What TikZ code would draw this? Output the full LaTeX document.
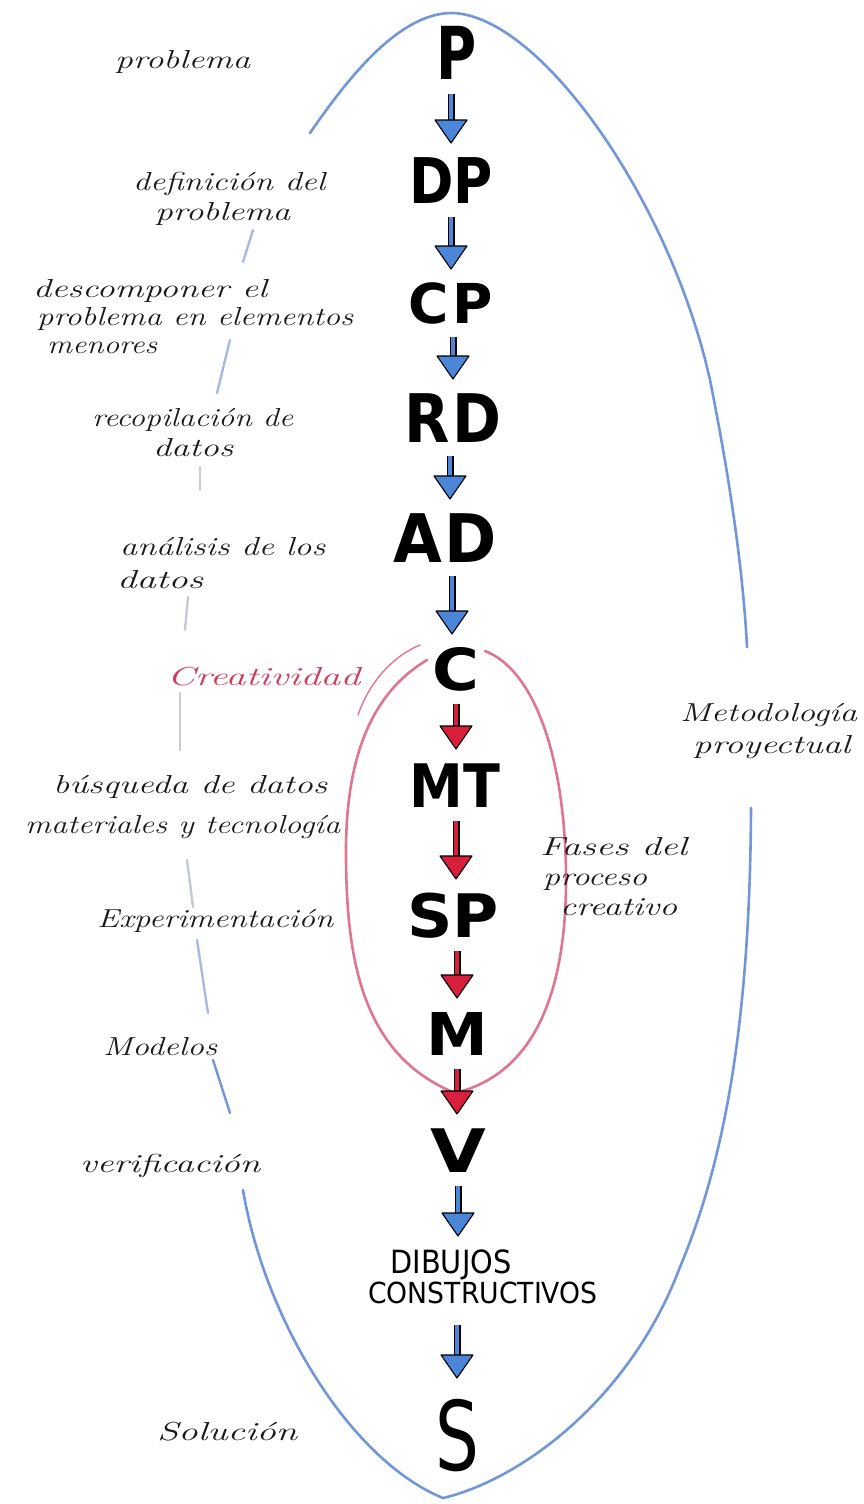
\documentclass[tikz,border=0pt]{standalone}
\usepackage{fontspec}
\usepackage{graphicx}
\usetikzlibrary{decorations.markings}
\newfontfamily\markerfont{DejaVu Sans}

% bold marker letters: size, horizontal squeeze, text
\newcommand\letr[3]{{\markerfont\bfseries\fontsize{#1}{#1}\selectfont\scalebox{#2}[1]{#3}}}
% plain marker capitals
\newcommand\caps[3]{{\markerfont\fontsize{#1}{#1}\selectfont\scalebox{#2}[1]{#3}}}
% handwritten note stretched to a given width
\newcommand\hand[2]{\resizebox{#1pt}{\height}{#2}}

\definecolor{penblue}{HTML}{7297D8}
\definecolor{fadeblue}{HTML}{A7BBE2}
\definecolor{fadegray}{HTML}{C6CAD3}
\definecolor{penred}{HTML}{E07592}
\definecolor{inkred}{HTML}{CF3A5E}
\definecolor{arrblue}{HTML}{4C86D8}
\definecolor{arrred}{HTML}{D8203C}
\definecolor{ink}{HTML}{1A1A1A}

\tikzset{
  letter/.style={inner sep=0pt, outer sep=14pt, text depth=0pt, text=black},
  note/.style={font=\fontsize{26}{26}\selectfont\itshape, inner sep=0pt,
    anchor=base west, text=ink},
  rednote/.style={note, text=inkred},
  flow/.style={draw=#1, line width=4.4pt, shorten >=21pt,
    preaction={draw=black, line width=7pt, shorten >=21pt},
    postaction={decorate, decoration={markings, mark=at position 1 with {
      \filldraw[fill=#1, draw=black, line width=1.1pt, line join=round,
        shorten >=0pt, shorten <=0pt]
        (0pt,0pt) -- (-23pt,16pt) -- (-23pt,-16pt) -- cycle;}}}},
  bluepen/.style={draw=penblue, line width=2.6pt, line cap=round},
  fadepen/.style={line width=2.4pt, line cap=round},
  redpen/.style={draw=penred, line width=2.6pt, line cap=round},
}

\begin{document}
\begin{tikzpicture}[x=1pt,y=-1pt]
\useasboundingbox (0,0) rectangle (864,1504);
\fill[white] (0,0) rectangle (864,1504);

% outer loop of the project method
\draw[bluepen] (310,133) .. controls (350,75) and (400,13) .. (452,13)
  .. controls (540,15) and (670,200) .. (710,380)
  .. controls (730,480) and (743,570) .. (747,647);
\draw[bluepen] (243,1190) .. controls (265,1320) and (350,1460) .. (443,1498)
  .. controls (520,1480) and (630,1400) .. (680,1267)
  .. controls (725,1160) and (750,1020) .. (751,808);
\draw[fadepen, fadeblue] (253,230) -- (243,262);
\draw[fadepen, fadeblue] (230,340) -- (217,393);
\draw[fadepen, fadegray] (200,467) -- (200,490);
\draw[fadepen, fadegray] (188,597) -- (185,630);
\draw[fadepen, fadegray] (180,693) -- (180,750);
\draw[fadepen, fadegray] (187,860) -- (193,907);
\draw[fadepen, fadeblue] (197,940) -- (208,1013);
\draw[fadepen, penblue] (213,1060) -- (230,1113);

% inner loop of the creative phases
\draw[redpen] (427,660) .. controls (360,700) and (345,780) .. (346,860)
  .. controls (347,960) and (362,1055) .. (455,1093)
  .. controls (530,1075) and (566,1000) .. (566,880)
  .. controls (566,760) and (535,670) .. (485,651);
\draw[penred, line width=1.4pt, line cap=round]
  (420,645) .. controls (395,655) and (370,680) .. (358,715);

% stages
\node[letter, text height=53pt] (P)  at (457,53.5)  {\letr{73}{0.75}{P}};
\node[letter, text height=46pt] (DP) at (451,180)   {\letr{63}{0.85}{DP}};
\node[letter, text height=40pt] (CP) at (451,303)   {\letr{55}{1.0}{C\kern4pt P}};
\node[letter, text height=49pt] (RD) at (453,417.5) {\letr{67}{0.88}{R\kern3pt D}};
\node[letter, text height=49pt] (AD) at (445,537.5) {\letr{67}{0.94}{A\kern2pt D}};
\node[letter, text height=42pt] (C)  at (456,669)   {\letr{58}{1.1}{C}};
\node[letter, text height=44pt] (MT) at (455,785)   {\letr{60}{0.9}{MT}};
\node[letter, text height=44pt] (SP) at (453,915)   {\letr{60}{1.05}{SP}};
\node[letter, text height=43pt] (M)  at (457,1033.5){\letr{59}{1.05}{M}};
\node[letter, text height=44pt] (V)  at (458,1150)  {\letr{60}{1.2}{V}};
\node[letter, text height=23pt] (DIB) at (451,1261.5) {\caps{32}{0.9}{DIBUJOS}};
\node[letter, text height=21pt, outer sep=22pt] (CON) at (483,1292.5) {\caps{29}{0.92}{CONSTRUCTIVOS}};
\node[letter, text height=70pt, outer sep=22pt] (S) at (457,1435) {\caps{96}{0.72}{S}};

% stage transitions, drawn straight down onto each next stage
\draw[flow=arrblue] (DP.north |- P.south)  -- (DP.north);
\draw[flow=arrblue] (CP.north |- DP.south) -- (CP.north);
\draw[flow=arrblue] (RD.north |- CP.south) -- (RD.north);
\draw[flow=arrblue] (450,0 |- RD.south) -- (450,0 |- AD.north);
\draw[flow=arrblue] (452,0 |- AD.south) -- (452,0 |- C.north);
\draw[flow=arrred]  (C.south)  -- (C.south |- MT.north);
\draw[flow=arrred]  (C.south |- MT.south) -- (C.south |- SP.north);
\draw[flow=arrred]  (SP.south -| M.north) -- (M.north);
\draw[flow=arrred]  (M.south)  -- (M.south |- V.north);
\draw[flow=arrblue] (V.south)  -- (V.south |- DIB.north);
\draw[flow=arrblue] (S.north |- CON.south) -- (S.north);

% notes on the left
\node[note] (n1)  at (115,68)   {\hand{135}{problema}};
\node[note] (n2a) at (133,190)  {\hand{192}{definición del}};
\node[note] (n2b) at (155,220)  {\hand{135}{problema}};
\node[note] (n3a) at (33,297)   {\hand{234}{descomponer el}};
\node[note] (n3b) at (37,325)   {\hand{316}{problema en elementos}};
\node[note] (n3c) at (47,353)   {\hand{110}{menores}};
\node[note] (n4a) at (92,426)   {\hand{201}{recopilación de}};
\node[note] (n4b) at (153,456)  {\hand{80}{datos}};
\node[note] (n5a) at (120,555)  {\hand{205}{análisis de los}};
\node[note] (n5b) at (117,588)  {\hand{86}{datos}};
\node[rednote] (n6) at (167,685) {\hand{193}{Creatividad}};
\node[note] (n7a) at (53,793)   {\hand{274}{búsqueda de datos}};
\node[note] (n7b) at (25,833)   {\hand{315}{materiales y tecnología}};
\node[note] (n8)  at (97,927)   {\hand{236}{Experimentación}};
\node[note] (n9)  at (103,1055) {\hand{114}{Modelos}};
\node[note] (n10) at (80,1172)  {\hand{180}{verificación}};
\node[note] (n11) at (157,1440) {\hand{140}{Solución}};

% notes on the right
\node[note] (m1a) at (680,721)  {\hand{177}{Metodología}};
\node[note] (m1b) at (693,753)  {\hand{157}{proyectual}};
\node[note] (f1a) at (540,855)  {\hand{147}{Fases del}};
\node[note] (f1b) at (543,885)  {\hand{104}{proceso}};
\node[note] (f1c) at (560,915)  {\hand{117}{creativo}};
\end{tikzpicture}
\end{document}
